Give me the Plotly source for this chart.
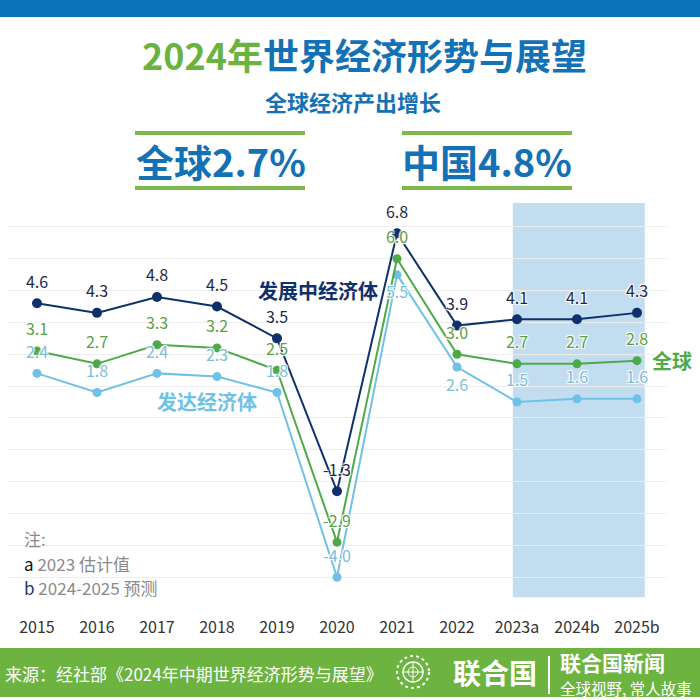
import plotly.graph_objects as go

# ---------------- data ----------------
years = ["2015", "2016", "2017", "2018", "2019", "2020", "2021", "2022", "2023a", "2024b", "2025b"]
developing = [4.6, 4.3, 4.8, 4.5, 3.5, -1.3, 6.8, 3.9, 4.1, 4.1, 4.3]
world = [3.1, 2.7, 3.3, 3.2, 2.5, -2.9, 6.0, 3.0, 2.7, 2.7, 2.8]
developed = [2.4, 1.8, 2.4, 2.3, 1.8, -4.0, 5.5, 2.6, 1.5, 1.6, 1.6]

series_names = ["发展中经济体", "全球", "发达经济体"]
title_year = "2024年"
title_rest = "世界经济形势与展望"
subtitle = "全球经济产出增长"
kpi_left = "全球2.7%"
kpi_right = "中国4.8%"
note_lines = ["注:", "2023 估计值", "2024-2025 预测"]
source_text = "来源：经社部《2024年中期世界经济形势与展望》"

# ---------------- style ----------------
FONT = "Noto Sans CJK SC"
NAVY = "#10306b"
NAVY_TXT = "#1c2a48"
GREEN = "#4ea948"
GREEN_TXT = "#5d9f48"
LBLUE = "#6fc1e5"
LBLUE_TXT = "#7bbddc"
BLUE = "#1371b6"
TGREEN = "#6bb33f"
FOOT = "#6cb33f"
HALO = "1px 1px 1px #fff, -1px -1px 1px #fff, 1px -1px 1px #fff, -1px 1px 1px #fff"

W, H = 700, 700
L, R, T, B = 7, 33, 203, 90
PW, PH = W - L - R, H - T - B


def px(x):
    return (x - L) / PW


def py(y):
    return (H - B - y) / PH


fig = go.Figure()

# lines with markers
for vals, col, msize in [(developed, LBLUE, 9), (world, GREEN, 9), (developing, NAVY, 10)]:
    fig.add_trace(go.Scatter(
        x=years, y=vals, mode="lines+markers",
        line=dict(color=col, width=2),
        marker=dict(color=col, size=msize),
        hoverinfo="skip", showlegend=False,
    ))

# value labels (drawn above all lines); invisible markers push the text away from the points
dev_pos = ["top center"] * len(years)
dev_pos[6] = "bottom center"
dev_pos[7] = "bottom center"
for vals, col, pos in [(developing, NAVY_TXT, "top center"),
                       (world, GREEN_TXT, "top center"),
                       (developed, LBLUE_TXT, dev_pos)]:
    fig.add_trace(go.Scatter(
        x=years, y=vals, mode="markers+text",
        marker=dict(size=17, opacity=0),
        text=[f"{v:.1f}" for v in vals],
        textposition=pos,
        textfont=dict(family=FONT, size=16, color=col, shadow=HALO),
        hoverinfo="skip", showlegend=False,
    ))

shapes = []
# forecast shading
shapes.append(dict(type="rect", xref="x", yref="y", x0=7.93, x1=10.13, y0=-4.63, y1=7.75,
                   fillcolor="#c3ddf0", line=dict(width=0), layer="below"))
# top bar
shapes.append(dict(type="rect", xref="paper", yref="paper", x0=px(0), x1=px(700), y0=py(17), y1=py(0),
                   fillcolor="#0b73b8", line=dict(width=0)))
# KPI frame lines
for x0, x1 in [(135, 305), (402, 572)]:
    for yy in [133, 188]:
        shapes.append(dict(type="line", xref="paper", yref="paper", x0=px(x0), x1=px(x1),
                           y0=py(yy), y1=py(yy), line=dict(color="#7cb84a", width=4)))
# footer band
shapes.append(dict(type="rect", xref="paper", yref="paper", x0=px(0), x1=px(700), y0=py(697), y1=py(648),
                   fillcolor=FOOT, line=dict(width=0)))
# UN emblem (simplified)
cx, cy = 413, 672
shapes.append(dict(type="circle", xref="paper", yref="paper", x0=px(cx - 16), x1=px(cx + 16),
                   y0=py(cy + 16), y1=py(cy - 16), line=dict(color="white", width=2, dash="dot")))
shapes.append(dict(type="circle", xref="paper", yref="paper", x0=px(cx - 10), x1=px(cx + 10),
                   y0=py(cy + 10), y1=py(cy - 10), line=dict(color="white", width=1.5)))
shapes.append(dict(type="line", xref="paper", yref="paper", x0=px(cx - 10), x1=px(cx + 10),
                   y0=py(cy), y1=py(cy), line=dict(color="white", width=1)))
shapes.append(dict(type="line", xref="paper", yref="paper", x0=px(cx), x1=px(cx),
                   y0=py(cy + 10), y1=py(cy - 10), line=dict(color="white", width=1)))
shapes.append(dict(type="circle", xref="paper", yref="paper", x0=px(cx - 5), x1=px(cx + 5),
                   y0=py(cy + 5), y1=py(cy - 5), line=dict(color="white", width=1)))
# footer divider
shapes.append(dict(type="line", xref="paper", yref="paper", x0=px(549), x1=px(549),
                   y0=py(656), y1=py(694), line=dict(color="white", width=2)))

ann = []


def add_text(text, x, y, size, color, xanchor="center", bold=False):
    ann.append(dict(text=f"<b>{text}</b>" if bold else text, x=px(x), y=py(y),
                    xref="paper", yref="paper", xanchor=xanchor, yanchor="middle",
                    showarrow=False, font=dict(family=FONT, size=size, color=color)))


# titles
add_text(f"<span style='color:{TGREEN}'>{title_year}</span>{title_rest}", 364, 54, 36, BLUE, bold=True)
add_text(subtitle, 353, 101, 22, BLUE, bold=True)
add_text(kpi_left, 221, 160, 38, BLUE, bold=True)
add_text(kpi_right, 487, 160, 38, BLUE, bold=True)

# series labels
add_text(series_names[0], 318, 290, 20, NAVY, bold=True)
add_text(series_names[2], 207, 401, 20, LBLUE, bold=True)
add_text(series_names[1], 672, 360, 20, GREEN, bold=True)

# notes
add_text(note_lines[0], 22, 538, 17, "#8a8a8a", xanchor="left")
add_text(f"<span style='color:#111'>a</span> {note_lines[1]}", 22, 563, 17, "#8a8a8a", xanchor="left")
add_text(f"<span style='color:#1c3466'>b</span> {note_lines[2]}", 22, 587, 17, "#8a8a8a", xanchor="left")

# footer
add_text(source_text, 3, 673, 17, "white", xanchor="left")
add_text("联合国", 495, 672, 28, "white", bold=True)
add_text("联合国新闻", 558, 662, 21, "white", xanchor="left", bold=True)
add_text("全球视野, 常人故事", 558, 688, 15.5, "white", xanchor="left")

fig.update_layout(
    width=W, height=H,
    margin=dict(l=L, r=R, t=T, b=B, pad=0),
    paper_bgcolor="white", plot_bgcolor="white",
    font=dict(family=FONT),
    shapes=shapes, annotations=ann,
    xaxis=dict(type="category", range=[-0.5, 10.5], showgrid=False, showline=False, zeroline=False,
               ticks="", ticklabelstandoff=6,
               tickfont=dict(family=FONT, size=16, color="#333333"), fixedrange=True),
    yaxis=dict(range=[-5.03, 7.75], dtick=1, tick0=0, showticklabels=False, showgrid=True,
               gridcolor="#ececec", gridwidth=1, zeroline=False, showline=False, fixedrange=True),
)

fig.write_html("out.html", config={"displayModeBar": False},
               post_script="document.body.style.margin='0';document.body.style.overflow='hidden';")
